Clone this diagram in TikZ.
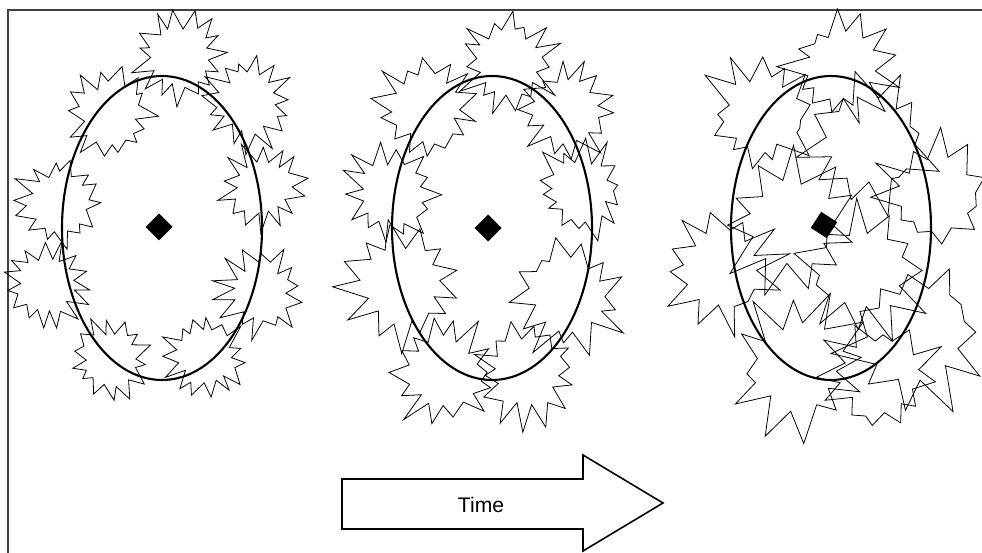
\documentclass[tikz,border=0pt]{standalone}
\usepackage{fontspec}
\setmainfont{Liberation Sans}
\usetikzlibrary{shapes.geometric}

% jagged burst: centre x, centre y, radius, spikes, seed, spike spread
\newcommand{\burst}[6]{%
  \pgfmathsetseed{#5}%
  \pgfmathsetmacro{\burstrot}{360*rnd}%
  \pgfmathtruncatemacro{\burstlast}{2*#4-1}%
  \gdef\burstpath{}%
  \foreach \k in {0,...,\burstlast}{%
    \pgfmathsetmacro{\burstang}{\burstrot+\k*180/#4+10*(rnd-0.5)}%
    \pgfmathsetmacro{\burstrad}{#3*(mod(\k,2)*(0.58+0.16*rnd)+(1-mod(\k,2))*(1-#6/2+#6*rnd))}%
    \pgfmathsetmacro{\burstx}{#1+\burstrad*cos(\burstang)}%
    \pgfmathsetmacro{\bursty}{#2+\burstrad*sin(\burstang)}%
    \xdef\burstpath{\burstpath (\burstx,\bursty) --}%
  }%
  \draw[spiky] \burstpath cycle;
}

\begin{document}
\begin{tikzpicture}[x=0.02cm,y=-0.02cm]%%bursts

    \tikzstyle{spiky} = [draw, line width=0.45pt, line join=miter]
    \tikzstyle{cell}  = [draw, line width=1.2pt]
    \tikzstyle{core}  = [diamond, fill=black, minimum size=0.54cm, inner sep=0pt, outer sep=0pt]
    \useasboundingbox (0,0) rectangle (982,553);
    \draw[line width=0.8pt, black!75] (8,553) -- (8,10) -- (982,10);

    % the three cells with their cores
    \foreach \cx/\dx/\dy/\rot/\name in {162/159/227/0/a, 492/488/228/0/b, 831/824/225/12/c}
    {
        \draw[cell] (\cx,228) ellipse [x radius=100, y radius=152];
        \node[core, rotate=\rot] (core\name) at (\dx,\dy) {};
    }

    % first cell
    \foreach \x/\y/\r/\n/\s in {181/57/46/15/11, 110/113/44/14/12, 249/103/45/15/13,
                               263/187/42/14/14, 58/202/44/14/15, 47/285/43/15/16,
                               260/292/43/14/17, 110/358/40/14/18, 206/357/42/15/19}
    {
        \burst{\x}{\y}{\r}{\n}{\s}{0.3}
    }

    % second cell
    \foreach \x/\y/\r/\n/\s in {508/63/48/15/21, 427/108/50/14/22, 566/110/46/14/23,
                               391/195/48/14/24, 581/190/46/14/25, 402/286/58/13/26,
                               568/297/56/13/27, 444/372/52/14/28, 527/372/51/14/29}
    {
        \burst{\x}{\y}{\r}{\n}{\s}{0.4}
    }

    % third cell
    \foreach \x/\y/\r/\n/\s in {840/68/52/13/31, 762/115/55/13/32, 872/140/62/12/33,
                               935/195/55/11/34, 918/335/70/11/35, 722/268/56/12/36,
                               790/225/65/11/37, 862/272/60/11/38, 798/365/65/12/39,
                               880/378/55/12/40}
    {
        \burst{\x}{\y}{\r}{\n}{\s}{0.55}
    }

    % time arrow
    \draw[line width=0.9pt, line join=miter] (342,479) -- (583,479) -- (583,455) -- (663,503)
        -- (583,551) -- (583,529) -- (342,529) -- cycle;
    \node[font=\fontsize{12}{14}\selectfont, inner sep=0pt] (time) at (481,505) {Time};

\end{tikzpicture}
\end{document}
